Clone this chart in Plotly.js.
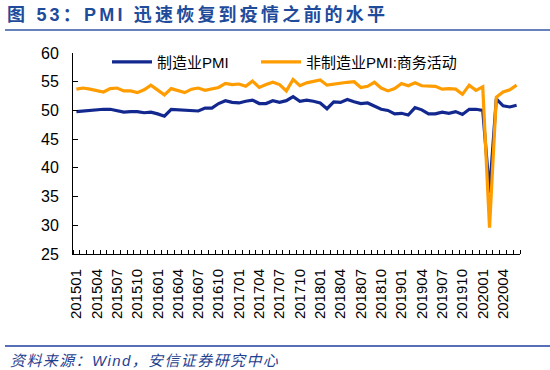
<!DOCTYPE html>
<html>
<head>
<meta charset="utf-8">
<script src="https://cdn.plot.ly/plotly-3.0.1.min.js"></script>
<style>
html,body{margin:0;padding:0;background:#fff;}
#chart{width:550px;height:370px;}
.gtitle{letter-spacing:3.2px;}
.annotation-text{letter-spacing:1.4px;}
</style>
</head>
<body>
<div id="chart"></div>
<script>
var months = [
"201501","201502","201503","201504","201505","201506","201507","201508","201509","201510","201511","201512",
"201601","201602","201603","201604","201605","201606","201607","201608","201609","201610","201611","201612",
"201701","201702","201703","201704","201705","201706","201707","201708","201709","201710","201711","201712",
"201801","201802","201803","201804","201805","201806","201807","201808","201809","201810","201811","201812",
"201901","201902","201903","201904","201905","201906","201907","201908","201909","201910","201911","201912",
"202001","202002","202003","202004","202005","202006"];

var manufacturingPMI = [
49.8,49.9,50.1,50.1,50.2,50.2,50.0,49.7,49.8,49.8,49.6,49.7,
49.4,49.0,50.2,50.1,50.1,50.0,49.9,50.4,50.4,51.2,51.7,51.4,
51.3,51.6,51.8,51.2,51.2,51.7,51.4,51.7,52.4,51.6,51.8,51.6,
51.3,50.3,51.5,51.4,51.9,51.5,51.2,51.3,50.8,50.2,50.0,49.4,
49.5,49.2,50.5,50.1,49.4,49.4,49.7,49.5,49.8,49.3,50.2,50.2,
50.0,35.7,52.0,50.8,50.6,50.9];

var nonManufacturingPMI = [
53.7,53.9,53.7,53.4,53.2,53.8,53.9,53.4,53.4,53.1,53.6,54.4,
53.5,52.7,53.8,53.5,53.1,53.7,53.9,53.5,53.7,54.0,54.7,54.5,
54.6,54.2,55.1,54.0,54.5,54.9,54.5,53.4,55.4,54.3,54.8,55.0,
55.3,54.4,54.6,54.8,54.9,55.0,54.0,54.2,54.9,53.9,53.4,53.8,
54.7,54.3,54.8,54.3,54.3,54.2,53.7,53.8,53.7,52.8,54.4,53.5,
54.1,29.6,52.3,53.2,53.6,54.4];

var tickLabels = ["201501","201504","201507","201510","201601","201604","201607","201610",
"201701","201704","201707","201710","201801","201804","201807","201810",
"201901","201904","201907","201910","202001","202004"];

var seriesNames = ["制造业PMI", "非制造业PMI:商务活动"];

var idx = months.map(function(m, i){ return i; });
var tickIdx = tickLabels.map(function(t){ return months.indexOf(t); });

var font = "Liberation Sans, Arial, Noto Sans CJK SC, sans-serif";

var traces = [
  {x: idx, y: manufacturingPMI, name: seriesNames[0], type: "scatter", mode: "lines",
   line: {color: "#13288f", width: 3.2}, hoverinfo: "skip", legend: "legend"},
  {x: idx, y: nonManufacturingPMI, name: seriesNames[1], type: "scatter", mode: "lines",
   line: {color: "#ff9c00", width: 3.2}, hoverinfo: "skip", legend: "legend2"}
];

var legendBase = {
  orientation: "h", xanchor: "left", y: 0.955, yanchor: "middle",
  bgcolor: "rgba(0,0,0,0)", font: {size: 15, family: font, color: "#000"},
  itemwidth: 40
};

var layout = {
  width: 550, height: 370, autosize: false,
  margin: {l: 73, r: 30, t: 53, b: 116, pad: 0},
  paper_bgcolor: "#fff", plot_bgcolor: "#fff",
  font: {family: font, color: "#000", size: 15},
  title: {
    text: "<b>图 53：PMI 迅速恢复到疫情之前的水平</b>",
    xref: "container", yref: "container",
    x: 7/550, xanchor: "left", y: 1 - 15/370, yanchor: "middle",
    font: {family: font, size: 18, color: "#1f4b9b"}
  },
  showlegend: true,
  legend: Object.assign({}, legendBase, {x: (107 - 73) / 447}),
  legend2: Object.assign({}, legendBase, {x: (256 - 73) / 447}),
  xaxis: {
    type: "linear", range: [-0.5, months.length - 0.5], fixedrange: true,
    tickmode: "array", tickvals: tickIdx, ticktext: tickLabels, tickangle: -90,
    ticks: "", showgrid: false, zeroline: false,
    showline: true, linecolor: "#000", linewidth: 1,
    tickfont: {size: 15, family: font, color: "#000"},
    ticklabelstandoff: 8,
    minor: {tickmode: "linear", tick0: -0.5, dtick: 1, ticks: "inside", ticklen: 4,
            tickcolor: "#000", tickwidth: 1, showgrid: false}
  },
  yaxis: {
    range: [25, 60], dtick: 5, tick0: 25, fixedrange: true,
    ticks: "inside", ticklen: 5, tickcolor: "#000", tickwidth: 1,
    showgrid: false, zeroline: false,
    showline: true, linecolor: "#000", linewidth: 1,
    tickfont: {size: 16, family: font, color: "#000"},
    ticklabelstandoff: 10
  },
  shapes: [
    {type: "line", xref: "paper", yref: "paper",
     x0: -68/447, x1: 1 + 30/447, y0: 1 + 23/201, y1: 1 + 23/201,
     line: {color: "#3457a6", width: 1.5}},
    {type: "line", xref: "paper", yref: "paper",
     x0: -68/447, x1: 1 + 30/447, y0: -92/201, y1: -92/201,
     line: {color: "#1f3f9f", width: 1.5}}
  ],
  annotations: [
    {text: "<i>资料来源：Wind，安信证券研究中心</i>",
     xref: "paper", yref: "paper", x: -65/447, xanchor: "left",
     y: -106/201, yanchor: "middle", showarrow: false,
     font: {family: font, size: 15, color: "#1f3f8f"}}
  ]
};

Plotly.newPlot("chart", traces, layout, {staticPlot: true, displayModeBar: false});
</script>
</body>
</html>
